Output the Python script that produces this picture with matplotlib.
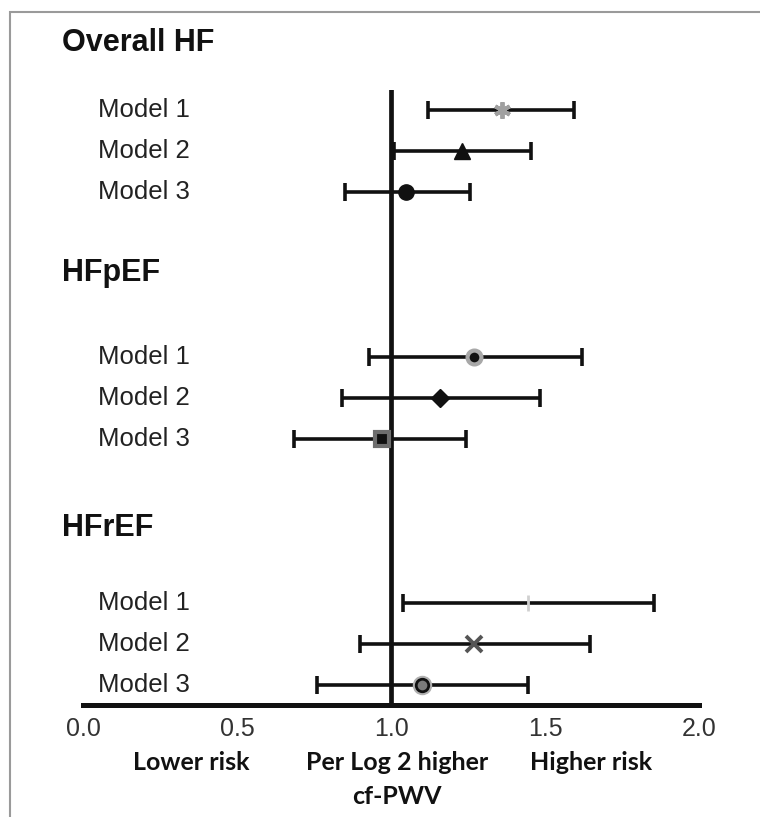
import matplotlib
matplotlib.use("Agg")
import matplotlib.pyplot as plt
from matplotlib.patches import Rectangle

# ---- data ----
groups = ["Overall HF", "HFpEF", "HFrEF"]
models = ["Model 1", "Model 2", "Model 3"]
estimate = [1.36, 1.23, 1.05, 1.27, 1.16, 0.97, 1.445, 1.27, 1.10]
ci_low = [1.12, 1.01, 0.85, 0.93, 0.84, 0.685, 1.04, 0.90, 0.76]
ci_high = [1.595, 1.455, 1.255, 1.62, 1.485, 1.245, 1.855, 1.645, 1.445]
xticks = [0.0, 0.5, 1.0, 1.5, 2.0]
xticklabels = ["0.0", "0.5", "1.0", "1.5", "2.0"]
bottom_labels = ["Lower risk", "Per Log 2 higher\ncf-PWV", "Higher risk"]
bottom_label_x = [0.35, 1.02, 1.65]

# ---- layout (vertical positions in pixel-like units, top = small) ----
group_first_row = [110, 357, 603]
row_step = 41
title_y = [43, 273, 528]
bottom_line_y = [762, 797]

W, H = 760, 817
fig = plt.figure(figsize=(W / 100, H / 100), dpi=100)
fig.patch.set_facecolor("white")

# light grey frame (goes off right and bottom)
fig.patches.append(Rectangle((10 / W, -0.05), 1.2, 1 - 12 / H + 0.05,
                             transform=fig.transFigure, fill=False,
                             edgecolor="#9a9a9a", linewidth=1.5))

ax = fig.add_axes([83 / W, 1 - 705 / H, (699 - 83) / W, (705 - 90) / H])
ax.set_xlim(0, 2)
ax.set_ylim(705, 90)
for s in ["top", "right", "left"]:
    ax.spines[s].set_visible(False)
ax.spines["bottom"].set_linewidth(3.6)
ax.spines["bottom"].set_color("#111111")
ax.set_yticks([])
ax.set_xticks(xticks)
ax.set_xticklabels(xticklabels, fontsize=18, family="Liberation Sans", color="#333333")
ax.tick_params(axis="x", length=0, pad=9)

# reference line
ax.axvline(1.0, color="#111111", linewidth=3.4, zorder=2)

ys = []
for g in range(3):
    for m in range(3):
        ys.append(group_first_row[g] + m * row_step)

ax.errorbar(estimate, ys, xerr=[[e - l for e, l in zip(estimate, ci_low)],
                                [h - e for e, h in zip(estimate, ci_high)]],
            fmt="none", ecolor="#111111", elinewidth=2.6, capsize=6.5,
            capthick=2.6, zorder=3)

# markers
styles = [
    dict(marker=(6, 2, 0), ms=12, color="#a0a0a0", mew=2.8),
    dict(marker="^", ms=11, color="#111111"),
    dict(marker="o", ms=11, color="#111111"),
    dict(marker="o", ms=10, mfc="#111111", mec="#a8a8a8", mew=3),
    dict(marker="D", ms=9.5, color="#111111"),
    dict(marker="s", ms=10, mfc="#111111", mec="#6e6e6e", mew=3),
    dict(marker="|", ms=11, color="#d0d0d0", mew=2),
    dict(marker="x", ms=11, color="#555555", mew=2.8),
    dict(marker="o", ms=9, mfc="#7a7a7a", mec="#111111", mew=2),
]
for x, y, st in zip(estimate, ys, styles):
    if st["marker"] == "o" and st.get("ms") == 9:
        ax.plot([x], [y], marker="o", ms=13, color="#b0b0b0", ls="none", zorder=4)
    ax.plot([x], [y], ls="none", zorder=5, **st)

# group titles and model labels
for g, name in enumerate(groups):
    ax.text(62 / W, 1 - title_y[g] / H, name, transform=fig.transFigure,
            fontsize=22, fontweight="bold", family="Liberation Sans",
            color="#111111", va="center", ha="left")
    for m, mname in enumerate(models):
        ax.text(98 / W, 1 - (group_first_row[g] + m * row_step) / H, mname,
                transform=fig.transFigure, fontsize=18.5, family="Liberation Sans",
                color="#222222", va="center", ha="left")

# bottom explanatory labels
for lab, bx in zip(bottom_labels, bottom_label_x):
    for i, line in enumerate(lab.split("\n")):
        ax.text(bx, 1 - bottom_line_y[i] / H, line,
                transform=matplotlib.transforms.blended_transform_factory(ax.transData, fig.transFigure),
                fontsize=18, fontweight="bold", family="Lato", color="#111111",
                ha="center", va="center", clip_on=False)

fig.savefig("out.png", dpi=100, facecolor="white")
